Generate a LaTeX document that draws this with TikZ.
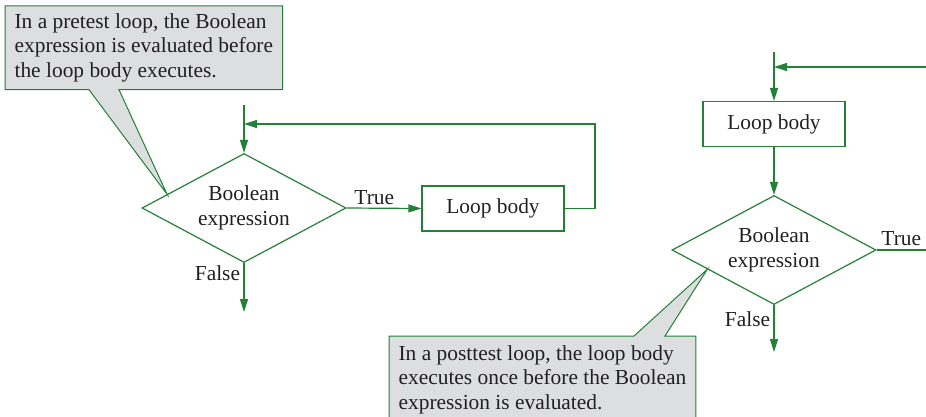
\documentclass[tikz,border=0pt]{standalone}
\usepackage{fontspec}
\setmainfont{Liberation Serif}
\usetikzlibrary{shapes.geometric,arrows.meta,calc,backgrounds}
\definecolor{flowgreen}{RGB}{35,128,55}
\definecolor{notegray}{RGB}{221,222,224}
\definecolor{inkgray}{RGB}{35,31,32}

\begin{document}
\begin{tikzpicture}[x=1pt, y=-1pt, line width=1.2pt,
  every node/.style={font=\fontsize{21.4}{24.5}\selectfont, text=inkgray},
  flow/.style={draw=flowgreen, -{Triangle[length=13pt,width=8pt]}},
  decision/.style={diamond, draw=flowgreen, aspect=2, inner sep=0pt, minimum width=204pt, minimum height=109pt, align=center},
  body/.style={rectangle, draw=flowgreen, minimum width=142pt, minimum height=45pt},
  note/.style={align=left, inner xsep=9pt, inner ysep=7pt, anchor=north west},
  callout/.style={draw=flowgreen, fill=notegray, line width=1pt}]
  \useasboundingbox (0,0) rectangle (926,417);
  \clip (0,0) rectangle (926,417);

  % pretest loop
  \node[decision] (D1) at (244,208) {Boolean\\expression};
  \node[body] (B1) at (493,208.5) {Loop body};
  \coordinate (S1) at (244,105); \coordinate (R1) at (595,124); \coordinate (J1) at (244,124); \coordinate (F1) at (244,312);
  \draw[flow] (S1) -- (D1.north);
  \draw[flow] (D1.east) -- node[above, pos=0.37]{True} (B1.west);
  \draw[flow] (B1.east) -| (R1) -- (J1);
  \draw[flow] (D1.south) -- node[left, pos=0.2]{False} (F1);

  % posttest loop
  \node[body] (B2) at (774,124) {Loop body};
  \node[decision] (D2) at (774,250) {Boolean\\expression};
  \coordinate (S2) at (774,52); \coordinate (R2) at (926,67); \coordinate (J2) at (774,67);
  \coordinate (T2) at (926,250); \coordinate (F2) at (774,352);
  \draw[flow] (S2) -- (B2.north);
  \draw[flow] (R2) -- (J2);
  \draw[flow] (B2.south) -- (D2.north);
  \draw[draw=flowgreen] (D2.east) -- node[above]{True} (T2);
  \draw[flow] (D2.south) -- node[left, pos=0.31]{False} (F2);

  % callouts
  \node[note] (N1) at (5,6) {In a pretest loop, the Boolean\\expression is evaluated before\\the loop body executes.};
  \node[note, inner ysep=9pt] (N2) at (389,336) {In a posttest loop, the loop body\\executes once before the Boolean\\expression is evaluated.};
  \coordinate (P1) at ($(D1.west)!0.25!(D1.north)$);
  \coordinate (P2) at ($(D2.west)!0.35!(D2.south)$);
  \begin{pgfonlayer}{background}
    \draw[callout] (N1.north west) -- (N1.north east) -- (N1.south east) -- (119,0 |- N1.south) -- (P1) -- (89,0 |- N1.south) -- (N1.south west) -- cycle;
    \draw[callout] (N2.north west) -- (634,0 |- N2.north) -- (P2) -- (665,0 |- N2.north) -- (N2.north east) -- (N2.south east) -- (N2.south west) -- cycle;
  \end{pgfonlayer}
\end{tikzpicture}
\end{document}
